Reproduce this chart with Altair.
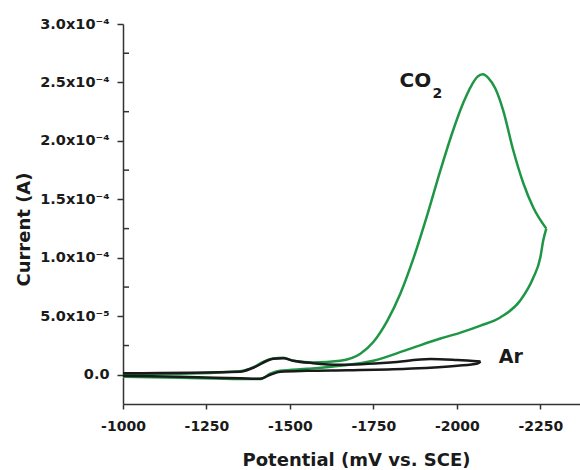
import altair as alt
import pandas as pd

# ---- data (potential in mV vs SCE, current in A) ----
# CO2 scan: forward (cathodic) branch, then reverse branch
co2_fwd_potential = [-1000, -1172, -1351, -1390, -1420, -1450, -1480, -1510, -1570, -1651,
                     -1711, -1750, -1792, -1831, -1870, -1912, -1951, -1990, -2020, -2045,
                     -2062, -2078, -2094, -2115, -2139, -2169, -2199, -2229, -2268]
co2_fwd_current = [0.0086e-4, 0.009e-4, 0.030e-4, 0.063e-4, 0.11e-4, 0.14e-4, 0.146e-4, 0.12e-4,
                   0.105e-4, 0.12e-4, 0.18e-4, 0.28e-4, 0.463e-4, 0.695e-4, 0.995e-4, 1.372e-4,
                   1.75e-4, 2.10e-4, 2.33e-4, 2.48e-4, 2.55e-4, 2.57e-4, 2.54e-4, 2.45e-4,
                   2.26e-4, 1.92e-4, 1.64e-4, 1.43e-4, 1.25e-4]
co2_rev_potential = [-2268, -2259, -2250, -2229, -2190, -2130, -2071, -2011, -1951,
                     -1852, -1750, -1651, -1552, -1471, -1441, -1411, -1351, -1172, -1000]
co2_rev_current = [1.25e-4, 1.15e-4, 1.0e-4, 0.83e-4, 0.635e-4, 0.49e-4, 0.42e-4, 0.36e-4,
                   0.31e-4, 0.215e-4, 0.12e-4, 0.077e-4, 0.051e-4, 0.034e-4,
                   0.009e-4, -0.037e-4, -0.037e-4, -0.026e-4, -0.017e-4]

# Ar scan: forward branch, then reverse branch
ar_fwd_potential = [-1000, -1351, -1390, -1450, -1480, -1510, -1570, -1651, -1801, -1921,
                    -2002, -2071]
ar_fwd_current = [0.013e-4, 0.026e-4, 0.06e-4, 0.137e-4, 0.142e-4, 0.12e-4, 0.099e-4, 0.086e-4,
                  0.105e-4, 0.135e-4, 0.126e-4, 0.114e-4]
ar_rev_potential = [-2071, -2062, -2002, -1852, -1672, -1552, -1471, -1441, -1411, -1351,
                    -1172, -1000]
ar_rev_current = [0.114e-4, 0.097e-4, 0.077e-4, 0.051e-4, 0.039e-4, 0.034e-4, 0.026e-4, 0.0,
                  -0.034e-4, -0.03e-4, -0.017e-4, -0.009e-4]

x_ticks = [-1000, -1250, -1500, -1750, -2000, -2250]
y_major = [0, 5e-5, 1e-4, 1.5e-4, 2e-4, 2.5e-4, 3e-4]
y_major_labels = ["0.0", "5.0x10\u207b\u2075", "1.0x10\u207b\u2074", "1.5x10\u207b\u2074",
                  "2.0x10\u207b\u2074", "2.5x10\u207b\u2074", "3.0x10\u207b\u2074"]
y_minor = [2.5e-5, 7.5e-5, 1.25e-4, 1.75e-4, 2.25e-4, 2.75e-4]

ann_text = ["CO", "2", "Ar"]
ann_potential = [-1876, -1942, -2162]
ann_current = [2.461e-4, 2.37e-4, 0.103e-4]
ann_size = [20, 14, 19]

GREEN = "#1e9645"
INK = "#1a1a1a"
AXIS = "#333333"
FONT = "DejaVu Sans"


def branches(fp, fc, rp, rc):
    rows = []
    for p, c in zip(fp, fc):
        rows.append({"potential": p, "current": c, "branch": "forward"})
    for p, c in zip(rp, rc):
        rows.append({"potential": p, "current": c, "branch": "reverse"})
    return pd.DataFrame(rows)


co2_df = branches(co2_fwd_potential, co2_fwd_current, co2_rev_potential, co2_rev_current)
ar_df = branches(ar_fwd_potential, ar_fwd_current, ar_rev_potential, ar_rev_current)
minor_df = pd.DataFrame({"current": y_minor})
ann_df = pd.DataFrame({"text": ann_text, "potential": ann_potential,
                       "current": ann_current, "size": ann_size})

label_expr = " : ".join(
    f"abs(datum.value - ({v})) < 1e-9 ? '{lab}'" for v, lab in zip(y_major, y_major_labels)
) + " : ''"

x_enc = alt.X(
    "potential:Q",
    scale=alt.Scale(domain=[-2369, -1000], reverse=True, nice=False, zero=False),
    axis=alt.Axis(values=x_ticks, labelExpr="datum.value + ''", title="Potential (mV vs. SCE)",
                  grid=False, tickSize=5, labelPadding=10, labelFontSize=14, labelFlush=False,
                  titleFontSize=18, titleX=233, titleY=61, titleBaseline="alphabetic",
                  titleAnchor="start", titleAlign="center"),
)
y_enc = alt.Y(
    "current:Q",
    scale=alt.Scale(domain=[-2.5e-5, 3e-4], nice=False, zero=False),
    axis=alt.Axis(values=y_major, labelExpr=label_expr, title="Current (A)", grid=False,
                  tickSize=6, labelPadding=8, labelFontSize=14.5, labelFlush=False,
                  titleFontSize=18, titleX=-99, titleY=205, titleBaseline="middle",
                  titleAngle=-90, titleAlign="center"),
)

line_order = alt.Order("potential:Q", sort="descending")

co2_line = alt.Chart(co2_df).mark_line(
    color=GREEN, strokeWidth=2.5, interpolate="monotone").encode(
    x=x_enc, y=y_enc, order=line_order, detail="branch:N")
ar_line = alt.Chart(ar_df).mark_line(
    color=INK, strokeWidth=2.5, interpolate="monotone").encode(
    x="potential:Q", y="current:Q", order=line_order, detail="branch:N")
minor_ticks = alt.Chart(minor_df).mark_rule(color=AXIS, strokeWidth=1.5).encode(
    y="current:Q", x=alt.value(0), x2=alt.value(6))
labels = alt.Chart(ann_df).mark_text(font=FONT, fontWeight="bold", color=INK,
                                     align="center", baseline="alphabetic").encode(
    x="potential:Q", y="current:Q", text="text:N", size=alt.Size("size:Q", scale=None))

chart = alt.layer(co2_line, ar_line, minor_ticks, labels).properties(
    width=457, height=380,
    autosize=alt.AutoSizeParams(type="none"),
    padding={"left": 123, "top": 24, "right": 0, "bottom": 66},
    background="white",
).configure_view(stroke=None).configure_axis(
    domainColor=AXIS, domainWidth=1.5, tickColor=AXIS, tickWidth=1.5,
    labelFont=FONT, labelFontWeight="bold", labelColor=INK,
    titleFont=FONT, titleFontWeight="bold", titleColor=INK,
)

chart.save("out.html", embed_options={"renderer": "svg", "actions": False})
